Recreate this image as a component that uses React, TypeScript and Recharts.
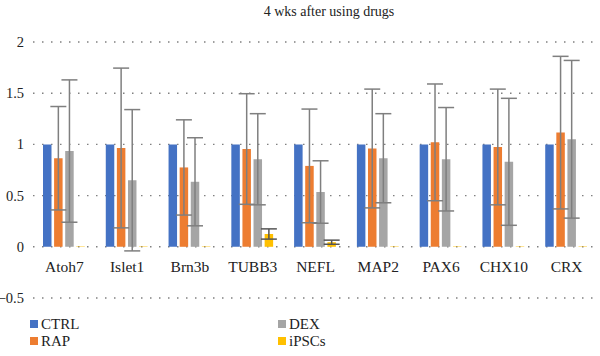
import { BarChart, Bar, XAxis, YAxis, CartesianGrid, ErrorBar } from 'recharts'

const genes = ['Atoh7', 'Islet1', 'Brn3b', 'TUBB3', 'NEFL', 'MAP2', 'PAX6', 'CHX10', 'CRX']

const ctrl = [1, 1, 1, 1, 1, 1, 1, 1, 1]
const rap = [0.865, 0.965, 0.775, 0.955, 0.79, 0.96, 1.02, 0.975, 1.115]
const rapErr = [0.505, 0.78, 0.465, 0.54, 0.555, 0.58, 0.57, 0.565, 0.745]
const dex = [0.935, 0.65, 0.635, 0.855, 0.535, 0.865, 0.855, 0.83, 1.05]
const dexErr = [0.695, 0.69, 0.43, 0.445, 0.305, 0.435, 0.505, 0.62, 0.77]
const ipsc = [0.004, 0.004, 0.004, 0.125, 0.045, 0.004, 0.004, 0.004, 0.004]
const ipscErr = [0, 0, 0, 0.05, 0.02, 0, 0, 0, 0]

const yTicks = [-0.5, 0, 0.5, 1, 1.5, 2]

const series = [
  { key: 'CTRL', color: '#4472C4' },
  { key: 'RAP', color: '#ED7D31' },
  { key: 'DEX', color: '#A5A5A5' },
  { key: 'iPSCs', color: '#FFC000' },
]

const FONT = '"Liberation Serif", "DejaVu Serif", serif'

const chartData = genes.map((g, i) => ({
  name: g,
  CTRL: ctrl[i],
  RAP: rap[i],
  rapErr: rapErr[i],
  DEX: dex[i],
  dexErr: dexErr[i],
  iPSCs: ipsc[i],
  ipscErr: ipscErr[i],
}))

// x labels sit just under the zero line, not at the bottom of the plot
const GeneTick = (props: any) => {
  const { x, y, payload } = props
  return (
    <text x={x} y={y - 34} textAnchor="middle" style={{ fontFamily: FONT, fontSize: 15.5 }} fill="#222">
      {payload.value}
    </text>
  )
}

const ValueTick = (props: any) => {
  const { x, y, payload } = props
  const v = payload.value as number
  const label = v < 0 ? '\u2212' + Math.abs(v) : String(v)
  return (
    <text x={x + 1} y={y + 5} textAnchor="end" style={{ fontFamily: FONT, fontSize: 14.5 }} fill="#222">
      {label}
    </text>
  )
}

const legendPos = [
  { left: 30, top: 316 },
  { left: 30, top: 333 },
  { left: 278, top: 316 },
  { left: 278, top: 333 },
]

export default function App() {
  return (
    <div style={{ position: 'absolute', left: 0, top: 0, width: 600, height: 356, background: '#fff' }}>
      <BarChart
        width={600}
        height={356}
        data={chartData}
        margin={{ top: 42, right: 2, left: 0, bottom: 28 }}
        barSize={8.5}
        barGap={2.6}
      >
        <CartesianGrid vertical={false} stroke="#808080" strokeWidth={1.4} strokeDasharray="1.5 7.5" />
        <XAxis dataKey="name" height={30} axisLine={false} tickLine={false} tick={<GeneTick />} interval={0} />
        <YAxis
          domain={[-0.5, 2]}
          ticks={yTicks}
          width={33}
          axisLine={false}
          tickLine={false}
          tickMargin={4}
          tick={<ValueTick />}
        />
        <Bar dataKey="CTRL" fill={series[0].color} isAnimationActive={false} />
        <Bar dataKey="RAP" fill={series[1].color} isAnimationActive={false}>
          <ErrorBar dataKey="rapErr" stroke="#7f7f7f" strokeWidth={1.5} width={8} />
        </Bar>
        <Bar dataKey="DEX" fill={series[2].color} isAnimationActive={false}>
          <ErrorBar dataKey="dexErr" stroke="#7f7f7f" strokeWidth={1.5} width={8} />
        </Bar>
        <Bar dataKey="iPSCs" fill={series[3].color} isAnimationActive={false}>
          <ErrorBar dataKey="ipscErr" stroke="#555" strokeWidth={1.5} width={8} />
        </Bar>
      </BarChart>
      <div
        style={{
          position: 'absolute',
          left: 0,
          top: 4,
          width: 658,
          textAlign: 'center',
          fontFamily: FONT,
          fontSize: 14,
          color: '#222',
        }}
      >
        4 wks after using drugs
      </div>
      {series.map((s, i) => (
        <div
          key={s.key}
          style={{
            position: 'absolute',
            left: legendPos[i].left,
            top: legendPos[i].top,
            display: 'flex',
            alignItems: 'center',
            fontFamily: FONT,
            fontSize: 15,
            color: '#222',
            lineHeight: '16px',
          }}
        >
          <span style={{ display: 'inline-block', width: 8, height: 8, background: s.color, marginRight: 3 }} />
          {s.key}
        </div>
      ))}
    </div>
  )
}
